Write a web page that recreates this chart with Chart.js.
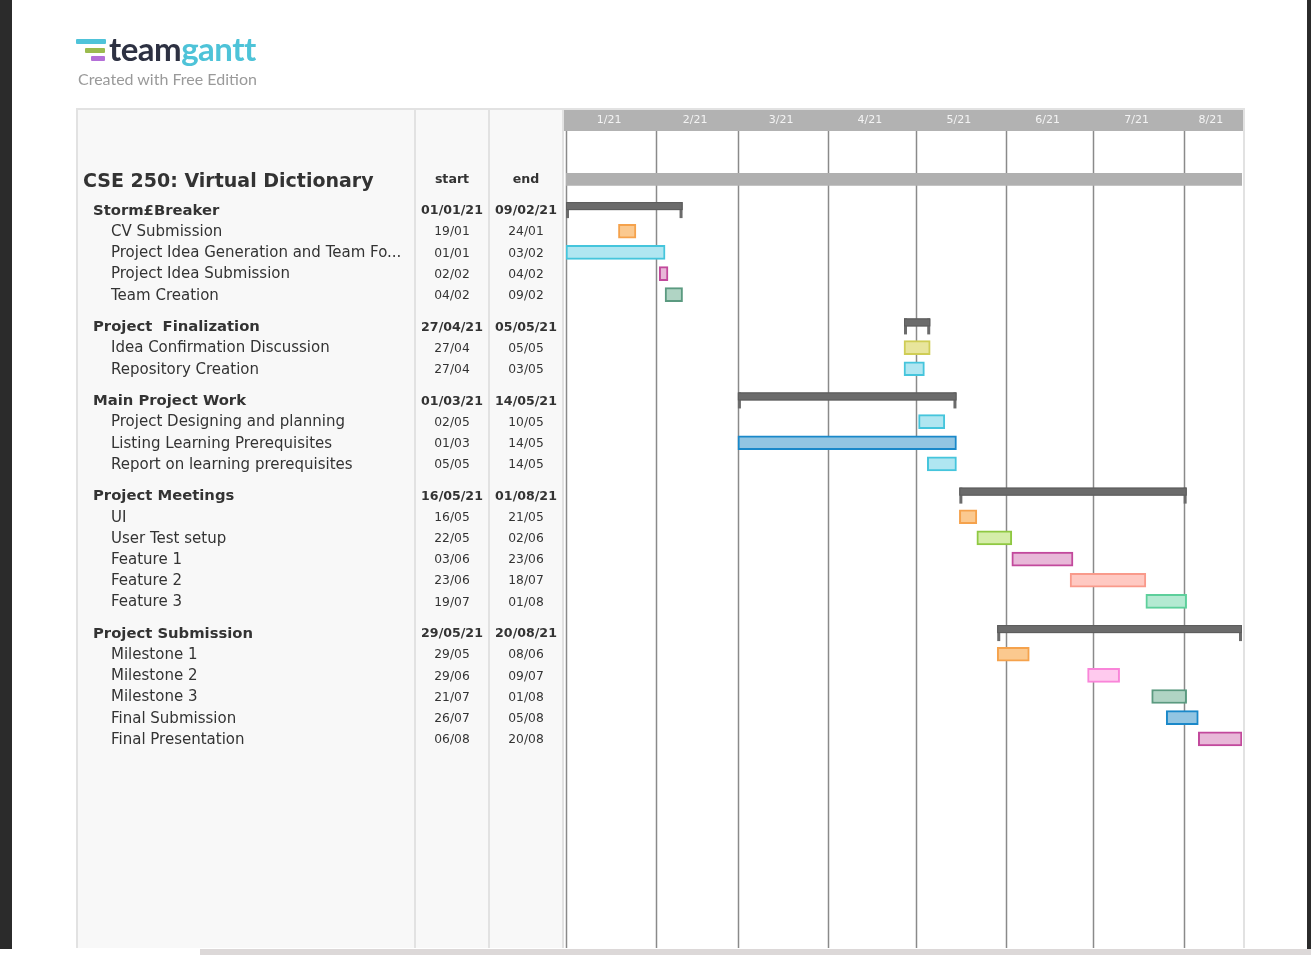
<!DOCTYPE html>
<html>
<head>
<meta charset="utf-8">
<script src="https://cdn.jsdelivr.net/npm/chart.js@4.4.0/dist/chart.umd.min.js"></script>
<style>
  html, body { margin: 0; padding: 0; width: 1311px; height: 955px; overflow: hidden; background: #fff; }
  #chart { position: absolute; left: 0; top: 0; }
  .edge-left { position: absolute; left: 0; top: 0; width: 12px; height: 949px; background: #2b2b2b; }
  .edge-right { position: absolute; left: 1307px; top: 0; width: 4px; height: 949px; background: #2b2b2b; }
  .bottom { position: absolute; left: 200px; top: 949px; width: 1111px; height: 6px; background: #dcd8d8; }
  .logo-bar { position: absolute; height: 5px; border-radius: 1px; }
  .logo-text { position: absolute; left: 109px; top: 28px; font-family: Lato, sans-serif; font-weight: 700; font-size: 33px; letter-spacing: -0.5px; color: #2d3142; }
  .logo-text span { color: #4ec3d8; }
  .logo-sub { position: absolute; left: 78px; top: 69px; font-family: Lato, sans-serif; font-size: 16px; color: #9a9a9a; }
</style>
</head>
<body>
<canvas id="chart" width="1311" height="955"></canvas>
<div class="edge-left"></div>
<div class="edge-right"></div>
<div class="bottom"></div>
<div class="logo-bar" style="left:76px; top:39px; width:30px; background:#4fc3d9;"></div>
<div class="logo-bar" style="left:85px; top:48px; width:20px; background:#9bbb4e;"></div>
<div class="logo-bar" style="left:91px; top:56px; width:14px; background:#b46fd8;"></div>
<div class="logo-text">team<span>gantt</span></div>
<div class="logo-sub">Created with Free Edition</div>
<script>
// project
var projectName = "CSE 250: Virtual Dictionary";
var projectStart = "01/01/21";
var projectEnd = "20/08/21";

// groups
var groupNames = ["Storm£Breaker", "Project  Finalization", "Main Project Work", "Project Meetings", "Project Submission"];
var groupStarts = ["01/01/21", "27/04/21", "01/03/21", "16/05/21", "29/05/21"];
var groupEnds = ["09/02/21", "05/05/21", "14/05/21", "01/08/21", "20/08/21"];

// tasks
var taskNames = [
  "CV Submission", "Project Idea Generation and Team Fo...", "Project Idea Submission", "Team Creation",
  "Idea Confirmation Discussion", "Repository Creation",
  "Project Designing and planning", "Listing Learning Prerequisites", "Report on learning prerequisites",
  "UI", "User Test setup", "Feature 1", "Feature 2", "Feature 3",
  "Milestone 1", "Milestone 2", "Milestone 3", "Final Submission", "Final Presentation"
];
var taskGroup = [0, 0, 0, 0, 1, 1, 2, 2, 2, 3, 3, 3, 3, 3, 4, 4, 4, 4, 4];
var taskStarts = ["19/01", "01/01", "02/02", "04/02", "27/04", "27/04", "02/05", "01/03", "05/05",
  "16/05", "22/05", "03/06", "23/06", "19/07", "29/05", "29/06", "21/07", "26/07", "06/08"];
var taskEnds = ["24/01", "03/02", "04/02", "09/02", "05/05", "03/05", "10/05", "14/05", "14/05",
  "21/05", "02/06", "23/06", "18/07", "01/08", "08/06", "09/07", "01/08", "05/08", "20/08"];

// month header
var monthLabels = ["1/21", "2/21", "3/21", "4/21", "5/21", "6/21", "7/21", "8/21"];
var monthStarts = ["01/01", "01/02", "01/03", "01/04", "01/05", "01/06", "01/07", "01/08"];

// colours for the task bars
var taskFill = ["#fbc98f", "#b0e6f1", "#e8b8d8", "#b0d4c4", "#e8e59c", "#b0e6f1", "#b0e6f1", "#92c5e2", "#b0e6f1",
  "#fbc98f", "#d5eda9", "#e8b8d8", "#ffc9c2", "#b4ead2", "#fbc98f", "#ffcaee", "#b0d4c4", "#92c5e2", "#e8b8d8"];
var taskLine = ["#f5a24c", "#45c5dc", "#c2499c", "#5b9a80", "#cfcd55", "#45c5dc", "#45c5dc", "#1a88c9", "#45c5dc",
  "#f5a24c", "#8fc842", "#c2499c", "#f99a8b", "#5dcf9b", "#f5a24c", "#f985d9", "#5b9a80", "#1a88c9", "#c2499c"];

function dayIndex(s) {
  var p = s.split('/');
  var y = p.length > 2 ? 2000 + parseInt(p[2], 10) : 2021;
  var t = Date.UTC(y, parseInt(p[1], 10) - 1, parseInt(p[0], 10));
  return Math.round((t - Date.UTC(2021, 0, 1)) / 86400000);
}

// row positions: one unit per row, a gap of half a row before each group
var projectRow = -1.45;
var groupRow = [];
var taskRow = [];
var pos = 0;
for (var g = 0; g < groupNames.length; g++) {
  if (g > 0) pos += 1.5;
  groupRow.push(pos);
  for (var t = 0; t < taskNames.length; t++) {
    if (taskGroup[t] === g) {
      pos += 1;
      taskRow[t] = pos;
    }
  }
}

var projectData = [{ x: [dayIndex(projectStart), dayIndex(projectEnd) + 1], y: projectRow }];
var groupData = [];
for (var i = 0; i < groupNames.length; i++) {
  groupData.push({ x: [dayIndex(groupStarts[i]), dayIndex(groupEnds[i]) + 1], y: groupRow[i] });
}
var taskData = [];
for (var i = 0; i < taskNames.length; i++) {
  taskData.push({ x: [dayIndex(taskStarts[i]), dayIndex(taskEnds[i]) + 1], y: taskRow[i] });
}

var FONT = '"DejaVu Sans", sans-serif';

var ganttPlugin = {
  id: 'ganttTable',
  beforeDraw: function(chart) {
    var ctx = chart.ctx;
    var area = chart.chartArea;
    ctx.save();
    // left table
    ctx.fillStyle = '#f8f8f8';
    ctx.fillRect(76, 108, 487, area.bottom - 108);
    ctx.fillStyle = '#e2e2e2';
    ctx.fillRect(76, 108, 1169, 2);
    ctx.fillRect(76, 108, 2, area.bottom - 108);
    ctx.fillRect(414, 108, 2, area.bottom - 108);
    ctx.fillRect(488, 108, 2, area.bottom - 108);
    ctx.fillRect(562, 108, 2, area.bottom - 108);
    ctx.fillRect(1243, 108, 2, area.bottom - 108);
    // month header band
    ctx.fillStyle = '#b2b2b2';
    ctx.fillRect(564, 110, 679, area.top - 110);
    ctx.restore();
  },
  beforeDatasetsDraw: function(chart) {
    var ctx = chart.ctx;
    var area = chart.chartArea;
    var xs = chart.scales.x;
    ctx.save();
    ctx.strokeStyle = '#8a8a8a';
    ctx.lineWidth = 1.5;
    for (var m = 0; m < monthStarts.length; m++) {
      var px = Math.round(xs.getPixelForValue(dayIndex(monthStarts[m]))) + 0.5;
      ctx.beginPath();
      ctx.moveTo(px, area.top);
      ctx.lineTo(px, area.bottom);
      ctx.stroke();
    }
    ctx.fillStyle = '#f4f4f4';
    ctx.font = '11px ' + FONT;
    ctx.textAlign = 'center';
    ctx.textBaseline = 'middle';
    for (var m = 0; m < monthLabels.length; m++) {
      var a = xs.getPixelForValue(dayIndex(monthStarts[m]));
      var b = m + 1 < monthStarts.length ? xs.getPixelForValue(dayIndex(monthStarts[m + 1])) : area.right;
      ctx.fillText(monthLabels[m], (a + b) / 2 - 2, 120);
    }
    ctx.restore();
  },
  afterDatasetsDraw: function(chart) {
    // group brackets over the transparent group bars
    var ctx = chart.ctx;
    var meta = chart.getDatasetMeta(1);
    ctx.save();
    meta.data.forEach(function(el) {
      var left = Math.min(el.x, el.base);
      var right = Math.max(el.x, el.base);
      var top = el.y - el.height / 2;
      var mid = el.y;
      var bottom = el.y + el.height / 2;
      ctx.fillStyle = '#6b6b6b';
      ctx.fillRect(left, top, right - left, mid - top);
      ctx.fillRect(left, top, 3, bottom - top);
      ctx.fillRect(right - 3, top, 3, bottom - top);
      ctx.strokeStyle = '#5c5c5c';
      ctx.lineWidth = 1;
      ctx.strokeRect(left + 0.5, top + 0.5, right - left - 1, mid - top - 1);
    });
    ctx.restore();
  },
  afterDraw: function(chart) {
    var ctx = chart.ctx;
    var ys = chart.scales.y;
    ctx.save();
    ctx.fillStyle = '#333';
    ctx.textBaseline = 'middle';
    var py = ys.getPixelForValue(projectRow);
    ctx.textAlign = 'left';
    ctx.font = 'bold 19px ' + FONT;
    ctx.fillText(projectName, 83, py + 2.5);
    ctx.textAlign = 'center';
    ctx.font = 'bold 12.6px ' + FONT;
    ctx.fillText('start', 452, py);
    ctx.fillText('end', 526, py);
    for (var g = 0; g < groupNames.length; g++) {
      var gy = ys.getPixelForValue(groupRow[g]) + 1;
      ctx.textAlign = 'left';
      ctx.font = 'bold 14.8px ' + FONT;
      ctx.fillText(groupNames[g], 93, gy);
      ctx.textAlign = 'center';
      ctx.font = 'bold 12.6px ' + FONT;
      ctx.fillText(groupStarts[g], 452, gy);
      ctx.fillText(groupEnds[g], 526, gy);
    }
    for (var t = 0; t < taskNames.length; t++) {
      var ty = ys.getPixelForValue(taskRow[t]) + 1;
      ctx.textAlign = 'left';
      ctx.font = '15px ' + FONT;
      ctx.fillText(taskNames[t], 111, ty);
      ctx.textAlign = 'center';
      ctx.font = '12.3px ' + FONT;
      ctx.fillText(taskStarts[t], 452, ty);
      ctx.fillText(taskEnds[t], 526, ty);
    }
    ctx.restore();
  }
};

var chart = new Chart(document.getElementById('chart').getContext('2d'), {
  type: 'bar',
  data: {
    datasets: [
      { label: 'Project', data: projectData, backgroundColor: '#b0b0b0', borderWidth: 0, maxBarThickness: 12 },
      { label: 'Groups', data: groupData, backgroundColor: 'rgba(0,0,0,0)', borderWidth: 0, maxBarThickness: 16 },
      { label: 'Tasks', data: taskData, backgroundColor: taskFill, borderColor: taskLine, borderWidth: 2,
        borderSkipped: false, maxBarThickness: 14 }
    ]
  },
  options: {
    indexAxis: 'y',
    responsive: false,
    devicePixelRatio: 1,
    animation: false,
    layout: { padding: { left: 566, right: 69, top: 131, bottom: 7 } },
    datasets: { bar: { grouped: false, barPercentage: 1, categoryPercentage: 1 } },
    scales: {
      x: { type: 'linear', min: 0, max: 232, display: false },
      y: { type: 'linear', reverse: true, offset: false, min: -3.74, max: 34.89, display: false }
    },
    plugins: { legend: { display: false }, tooltip: { enabled: false } }
  },
  plugins: [ganttPlugin]
});
</script>
</body>
</html>
